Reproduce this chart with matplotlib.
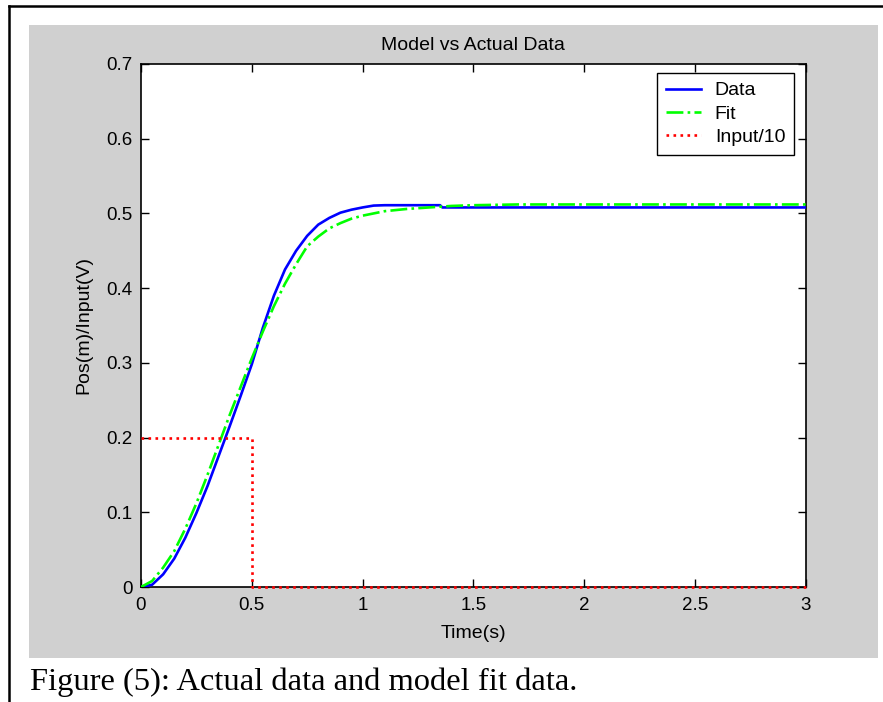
"""Model vs actual data step response figure."""
import matplotlib
matplotlib.use("Agg")
from matplotlib import pyplot as plt
from matplotlib.patches import Rectangle
from matplotlib.lines import Line2D

data_t = [0, 0.05, 0.1, 0.15, 0.2, 0.25, 0.3, 0.35, 0.4, 0.45, 0.5, 0.55,
          0.6, 0.65, 0.7, 0.75, 0.8, 0.85, 0.9, 0.95, 1.0, 1.05, 1.1, 1.35,
          1.36, 3.0]
data_y = [0, 0.003, 0.017, 0.038, 0.066, 0.099, 0.135, 0.175, 0.215, 0.256,
          0.298, 0.347, 0.390, 0.425, 0.450, 0.470, 0.485, 0.494, 0.501,
          0.505, 0.508, 0.5105, 0.511, 0.511, 0.508, 0.508]

# model fit
fit_t = [0, 0.05, 0.1, 0.15, 0.2, 0.25, 0.3, 0.35, 0.4, 0.45, 0.5, 0.55,
         0.6, 0.65, 0.7, 0.75, 0.8, 0.85, 0.9, 0.95, 1.0, 1.1, 1.2, 1.3,
         1.4, 1.5, 1.7, 2.0, 3.0]
fit_y = [0, 0.008, 0.026, 0.048, 0.078, 0.112, 0.150, 0.190, 0.230, 0.268,
         0.306, 0.342, 0.376, 0.406, 0.432, 0.456, 0.469, 0.480, 0.487,
         0.493, 0.497, 0.503, 0.506, 0.508, 0.510, 0.511, 0.512, 0.512,
         0.512]

# input step divided by 10
input_t = [0, 0.5, 0.5, 3.0]
input_y = [0.2, 0.2, 0, 0]

x_ticks = [0, 0.5, 1, 1.5, 2, 2.5, 3]
x_tick_labels = ["0", "0.5", "1", "1.5", "2", "2.5", "3"]
y_ticks = [0, 0.1, 0.2, 0.3, 0.4, 0.5, 0.6, 0.7]
y_tick_labels = ["0", "0.1", "0.2", "0.3", "0.4", "0.5", "0.6", "0.7"]

W, H = 883, 702
plt.rcParams["font.family"] = ["Liberation Sans", "DejaVu Sans"]
fs = 14

fig = plt.figure(figsize=(W / 100, H / 100), dpi=100, facecolor="white")

# gray matlab figure background
fig.patches.append(Rectangle((29 / W, 1 - 658 / H), 849 / W, 633 / H,
                             transform=fig.transFigure, facecolor="#d0d0d0",
                             edgecolor="none", zorder=-5))
# page frame lines (left and top)
fig.lines.append(Line2D([9 / W, 9 / W], [0, 1 - 6 / H], color="black",
                        lw=1.8, transform=fig.transFigure))
fig.lines.append(Line2D([9 / W, 1], [1 - 6 / H, 1 - 6 / H], color="black",
                        lw=1.8, transform=fig.transFigure))

ax = fig.add_axes([141 / W, 1 - 587 / H, 664.7 / W, 523 / H])
ax.set_zorder(5)
ax.set_facecolor("white")

ax.plot(data_t, data_y, color=(0, 0, 1), lw=1.9, label="Data", zorder=3)
ax.plot(fit_t, fit_y, color=(0, 1, 0), lw=1.9, ls="-.", label="Fit",
        zorder=3)
ax.plot(input_t, input_y, color=(1, 0, 0), lw=1.9, ls=":", label="Input/10",
        zorder=4, clip_on=False)

ax.set_xlim(0, 3)
ax.set_ylim(0, 0.7)
ax.set_xticks(x_ticks)
ax.set_xticklabels(x_tick_labels)
ax.set_yticks(y_ticks)
ax.set_yticklabels(y_tick_labels)
ax.tick_params(direction="in", length=6, width=1, labelsize=13.5,
               top=True, right=True, colors="black")
ax.tick_params(axis="x", pad=7)
ax.tick_params(axis="y", pad=6)
for sp in ax.spines.values():
    sp.set_linewidth(1.2)

ax.set_title("Model vs Actual Data", fontsize=fs, pad=10)
ax.set_xlabel("Time(s)", fontsize=fs, labelpad=8)
ax.set_ylabel("Pos(m)/Input(V)", fontsize=fs, labelpad=10)

leg = ax.legend(loc="upper right", bbox_to_anchor=(0.9824, 0.9828),
                borderaxespad=0, fontsize=fs, fancybox=False,
                edgecolor="black", framealpha=1, handlelength=1.8,
                handletextpad=0.7, labelspacing=0.3, borderpad=0.45)
leg.get_frame().set_linewidth(1.0)

fig.text(30 / W, 1 - 682 / H, "Figure (5): Actual data and model fit data.",
         fontsize=23.4, family=["Liberation Serif", "DejaVu Serif"],
         va="center", ha="left")

fig.savefig("out.png", dpi=100)
